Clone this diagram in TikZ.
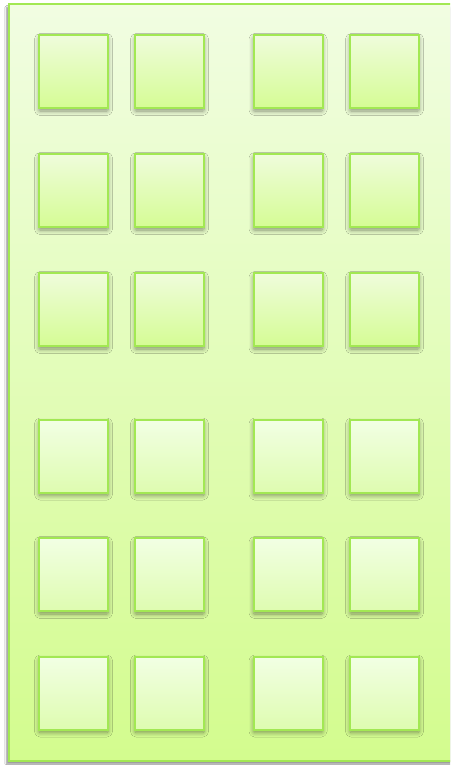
\documentclass[tikz,border=0pt]{standalone}
\usetikzlibrary{shadows.blur}
\definecolor{edgegreen}{HTML}{A2E853}
\definecolor{bgtop}{HTML}{F1FDE2}
\definecolor{bgbot}{HTML}{D3FC8E}
\definecolor{sqtopA}{HTML}{EFFCDC}
\definecolor{sqbotA}{HTML}{D5FC94}
\definecolor{sqtopB}{HTML}{F2FFE4}
\definecolor{sqbotB}{HTML}{DEFCB0}
\tikzset{
  panel/.style={draw=edgegreen, line width=2pt, top color=bgtop, bottom color=bgbot,
    blur shadow={shadow xshift=-2.5pt, shadow yshift=-3pt, shadow blur steps=4, shadow blur radius=1.5pt, shadow opacity=40, shadow blur extra rounding=0pt}},
  tile/.style={draw=edgegreen, line width=2pt, minimum width=69pt, minimum height=73pt, inner sep=0pt,
    blur shadow={shadow xshift=0pt, shadow yshift=-3pt, shadow blur steps=8, shadow blur radius=4.5pt, shadow opacity=42, shadow blur extra rounding=1pt}},
  tileA/.style={tile, top color=sqtopA, bottom color=sqbotA},
  tileB/.style={tile, top color=sqtopB, bottom color=sqbotB}
}
\begin{document}
\begin{tikzpicture}[x=1pt,y=-1pt]
\useasboundingbox (0,0) rectangle (450,765);
\clip (0,0) rectangle (450,765);
\fill[white] (0,0) rectangle (450,765);
\node[panel, inner sep=0pt, minimum width=480pt, minimum height=757pt, anchor=north west] (panel) at (8,3) {};
\foreach \r/\y/\s in {1/71.5/tileA, 2/190.5/tileA, 3/309.5/tileA, 4/456/tileB, 5/574.5/tileB, 6/693/tileB}{
  \foreach \c/\x in {1/73.5, 2/169.5, 3/288, 4/384.5}{
    \node[\s] (t\r\c) at (\x,\y) {};
  }
}
\end{tikzpicture}
\end{document}
